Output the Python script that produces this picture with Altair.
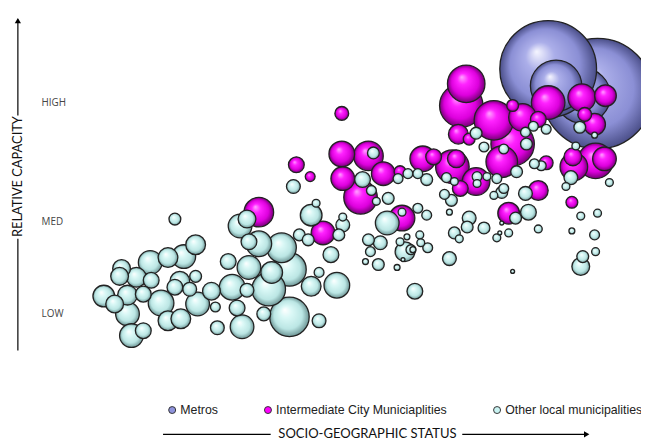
import altair as alt
import pandas as pd

# ---- values (status = horizontal position, level = vertical position, weight = bubble measure)
metro_status = [605, 590, 555, 563]
metro_level = [92, 94, 67, 84]
metro_weight = [56, 28, 49, 26]

inter_status = [472, 467, 500, 519, 529, 555, 589, 613, 602, 545, 519, 592, 464, 475, 508,
                428, 439, 458, 462, 482, 466, 405, 553, 581, 603, 612, 580, 545, 579, 515,
                407, 327, 262, 300, 314, 346, 373, 347, 388, 365, 346]
inter_level = [82, 104, 119, 143, 116, 101, 96, 94, 123, 118, 104, 113, 133, 138, 161,
               158, 156, 166, 158, 181, 188, 171, 162, 166, 160, 158, 156, 190, 202, 213,
               218, 233, 212, 164, 176, 153, 155, 178, 173, 197, 112]
inter_weight = [19, 22, 20, 22, 14, 17, 14, 11, 11, 8, 6, 7, 10, 6, 16,
                13, 8, 17, 9, 14, 8, 6, 7, 14, 18, 12, 9, 10, 6, 11,
                13, 12, 15, 8, 5, 13, 15, 12, 12, 17, 7]

other_status = [177, 198, 186, 170, 152, 123, 121, 138, 153, 105, 129, 145, 116, 129, 133,
                145, 163, 170, 183, 182, 177, 192, 198, 200, 220, 214, 218, 231, 235, 245,
                240, 243, 250, 252, 252, 250, 262, 285, 275, 293, 272, 293, 267, 323, 315,
                341, 323, 315, 320, 303, 312, 335, 343, 347, 297, 378, 367, 376, 393, 381,
                403, 413, 347, 423, 432, 452, 460, 450, 457, 455, 475, 473, 460, 465, 490,
                503, 506, 515, 500, 508, 532, 535, 522, 508, 545, 455, 519, 432, 423, 425,
                426, 433, 416, 410, 418, 408, 402, 420, 392, 383, 370, 375, 385, 373, 405,
                412, 407, 482, 490, 510, 532, 533, 540, 553, 548, 541, 523, 503, 510, 483,
                483, 493, 587, 602, 583, 578, 573, 617, 588, 605, 579, 602, 603, 590, 588]
other_level = [219, 245, 257, 258, 263, 269, 277, 278, 281, 297, 296, 295, 305, 315, 337,
               332, 304, 322, 320, 282, 288, 290, 277, 305, 329, 292, 308, 262, 288, 328,
               309, 226, 219, 242, 268, 291, 244, 248, 273, 270, 290, 318, 315, 322, 287,
               286, 273, 215, 203, 235, 240, 255, 235, 225, 186, 152, 179, 190, 198, 201,
               178, 173, 217, 173, 179, 177, 181, 194, 200, 212, 218, 227, 233, 239, 228,
               238, 233, 233, 195, 192, 193, 212, 218, 223, 229, 259, 272, 215, 208, 235,
               243, 248, 250, 252, 250, 260, 268, 292, 223, 265, 262, 252, 243, 240, 242,
               237, 212, 132, 146, 148, 131, 143, 125, 128, 165, 163, 171, 178, 188, 176,
               183, 176, 126, 134, 145, 177, 186, 182, 216, 213, 231, 235, 252, 257, 267]
other_weight = [6, 10, 12, 10, 12, 9, 9, 10, 8, 11, 10, 8, 9, 12, 12,
                8, 13, 10, 10, 10, 8, 7, 6, 12, 7, 9, 5, 8, 13, 12,
                8, 12, 9, 8, 12, 7, 13, 15, 11, 17, 17, 20, 7, 7, 10,
                13, 5, 11, 4, 6, 6, 8, 6, 7, 7, 6, 8, 5, 6, 4,
                5, 5, 4, 5, 6, 5, 4, 5, 6, 3, 7, 6, 6, 4, 6,
                4, 2, 4, 4, 6, 7, 8, 6, 2, 4, 7, 2, 5, 5, 4,
                4, 5, 5, 10, 3, 2, 3, 8, 12, 6, 3, 5, 7, 6, 4,
                3, 4, 6, 5, 5, 5, 6, 5, 5, 5, 5, 6, 5, 5, 5,
                4, 4, 6, 3, 4, 7, 4, 4, 4, 4, 3, 5, 4, 6, 9]

groups = ["Metros", "Intermediate City Municiaplities", "Other local municipalities"]
legend_colors = ["#8f93dc", "#ff00ff", "#c9f3f2"]

level_names = ["HIGH", "MED", "LOW"]
level_marks = [101, 222, 315]

W, H = 641, 435
xs = alt.Scale(domain=[8, 649], nice=False, zero=False)
ys = alt.Scale(domain=[443, 8], nice=False, zero=False)
ss = alt.Scale(type="pow", exponent=2, domain=[0, 10], range=[0, 400])


def frame(sx, sy, w, name, sort_desc=True):
    df = pd.DataFrame({"status": sx, "level": sy, "weight": w, "group": name})
    if sort_desc:
        df = df.sort_values("weight", ascending=False, kind="stable")
    df = df.reset_index(drop=True)
    df["draw"] = range(len(df))
    return df


def grad(stops):
    return {"gradient": "radial", "x1": 0.38, "y1": 0.32, "r1": 0,
            "x2": 0.5, "y2": 0.5, "r2": 0.5,
            "stops": [{"offset": o, "color": c} for o, c in stops]}


g_metro = grad([(0, "#f6f6ff"), (0.3, "#abaee9"), (0.72, "#8b8fd5"), (1, "#4a4e88")])
g_inter = grad([(0, "#ffa8ff"), (0.3, "#ff22ff"), (0.72, "#dd00dd"), (1, "#760076")])
g_other = grad([(0, "#ffffff"), (0.3, "#daf8f6"), (0.72, "#bbe6e4"), (1, "#6d9595")])

df_m = frame(metro_status, metro_level, metro_weight, groups[0], sort_desc=False)
df_i = frame(inter_status, inter_level, inter_weight, groups[1])
df_o = frame(other_status, other_level, other_weight, groups[2])


def bubbles(df, fill):
    return alt.Chart(df).mark_circle(fill=fill, opacity=1, stroke="#222", strokeWidth=1.3).encode(
        x=alt.X("status:Q", scale=xs, axis=None),
        y=alt.Y("level:Q", scale=ys, axis=None),
        size=alt.Size("weight:Q", scale=ss, legend=None),
        order=alt.Order("draw:Q"),
    )


legend_layer = alt.Chart(pd.concat([df_m, df_i, df_o])).mark_circle(opacity=0, size=0).encode(
    x=alt.X("status:Q", scale=xs, axis=None),
    y=alt.Y("level:Q", scale=ys, axis=None),
    color=alt.Color("group:N", scale=alt.Scale(domain=groups, range=legend_colors),
                    legend=alt.Legend(orient="none", legendX=160, legendY=398, direction="horizontal",
                                      title=None, symbolOpacity=1, symbolStrokeColor="#333",
                                      symbolStrokeWidth=1, symbolSize=50, symbolType="circle",
                                      labelFont="Liberation Sans", labelFontSize=12.5, labelColor="#222",
                                      labelLimit=0, columnPadding=44, labelOffset=2, padding=0)),
)

one = pd.DataFrame({"k": [0]})


def rule(x1, x2, y1, y2):
    return alt.Chart(one).mark_rule(color="#000", strokeWidth=1.2).encode(
        x=alt.value(x1), x2=alt.value(x2), y=alt.value(y1), y2=alt.value(y2))


def arrow(x, y, shape):
    return alt.Chart(one).mark_point(shape=shape, filled=True, size=40, color="#000", opacity=1).encode(
        x=alt.value(x), y=alt.value(y))


def label(text, x, y, size, angle=0):
    return alt.Chart(one).mark_text(text=text, font="Lato", fontSize=size, color="#111",
                                    align="center", baseline="middle", angle=angle).encode(
        x=alt.value(x), y=alt.value(y))


ticks = alt.Chart(pd.DataFrame({"name": level_names, "level": level_marks})).mark_text(
    font="Open Sans", fontSize=10, color="#444", align="left", baseline="middle").encode(
    x=alt.value(34), y=alt.Y("level:Q", scale=ys, axis=None), text="name:N")

chart = alt.layer(
    bubbles(df_m, g_metro),
    bubbles(df_i, g_inter),
    bubbles(df_o, g_other),
    legend_layer,
    rule(10, 10, 9, 106), rule(10, 10, 231, 344), arrow(10, 10, "triangle-up"),
    label("RELATIVE CAPACITY", 10, 168, 13, 270),
    rule(157, 266, 429, 429), rule(460, 586, 429, 429), arrow(586, 429, "triangle-right"),
    label("SOCIO-GEOGRAPHIC STATUS", 364, 429, 13.2),
    ticks,
).properties(width=W, height=H, autosize=alt.AutoSizeParams(type="none"), padding=0
).configure_view(strokeWidth=0)

chart.save("out.html", embed_options={"renderer": "svg", "actions": False})
